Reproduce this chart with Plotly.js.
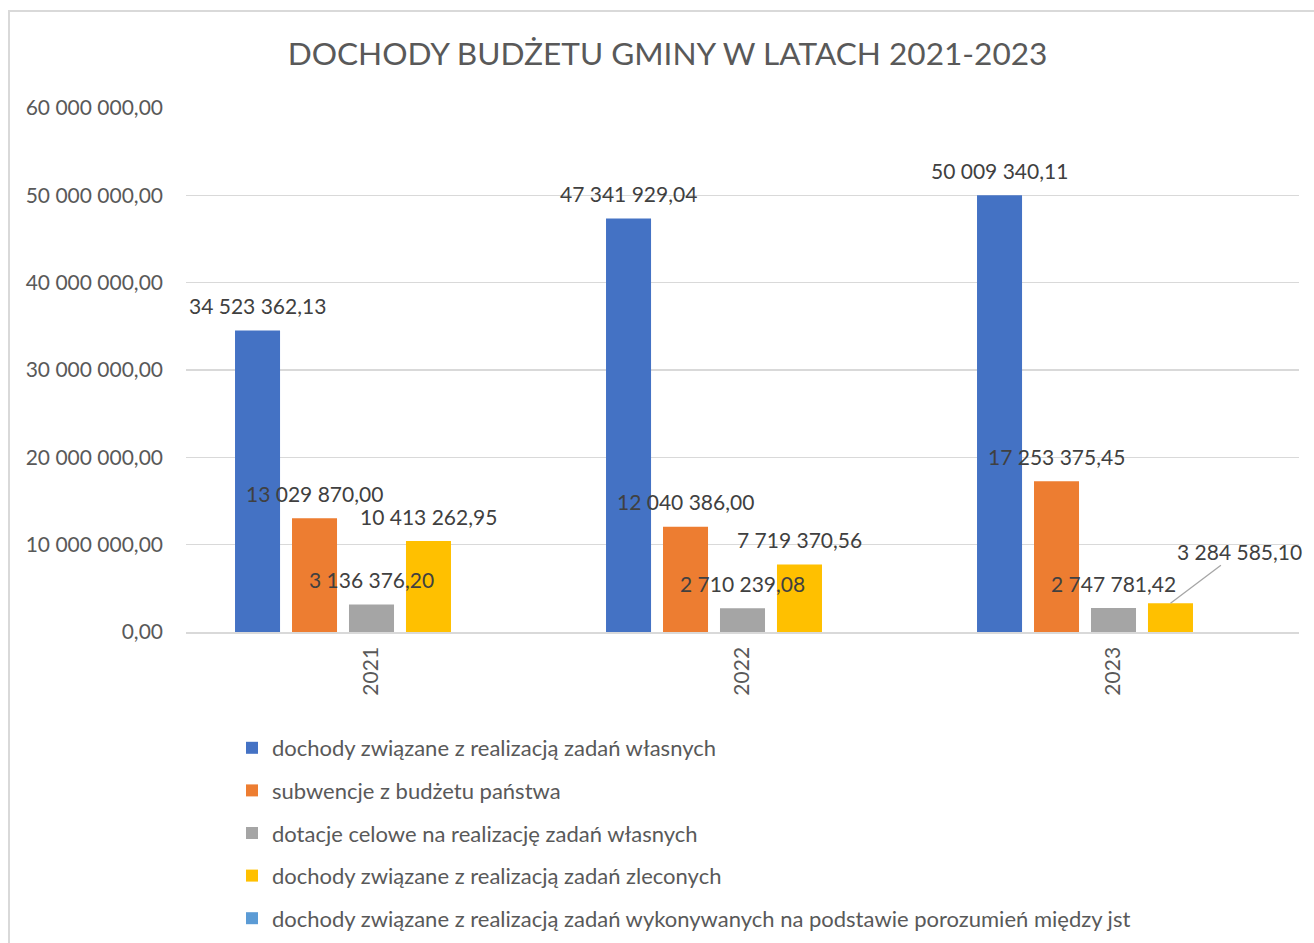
<!DOCTYPE html>
<html>
<head>
<meta charset="utf-8">
<script src="https://cdn.plot.ly/plotly-3.0.1.min.js"></script>
<style>
  html, body { margin: 0; padding: 0; background: #fff; }
  #chart { position: absolute; left: 0; top: 0; width: 1314px; height: 943px; }
  #frame { position: absolute; left: 8px; top: 10px; width: 1320px; height: 950px;
           border: 2px solid #d9d9d9; pointer-events: none; box-sizing: border-box; }
</style>
</head>
<body>
<div id="chart"></div>
<div id="frame"></div>
<script>
const years = ['2021', '2022', '2023'];
const seriesNames = [
  'dochody związane z realizacją zadań własnych',
  'subwencje z budżetu państwa',
  'dotacje celowe na realizację zadań własnych',
  'dochody związane z realizacją zadań zleconych',
  'dochody związane z realizacją zadań wykonywanych na podstawie porozumień między jst'
];
const wlasne = [34523362.13, 47341929.04, 50009340.11];
const subwencje = [13029870.00, 12040386.00, 17253375.45];
const dotacje = [3136376.20, 2710239.08, 2747781.42];
const zlecone = [10413262.95, 7719370.56, 3284585.10];
const porozumienia = [null, null, null];
const yTicks = [0, 10000000, 20000000, 30000000, 40000000, 50000000, 60000000];

const seriesValues = [wlasne, subwencje, dotacje, zlecone, porozumienia];
const colors = ['#4472C4', '#ED7D31', '#A5A5A5', '#FFC000', '#5B9BD5'];

const W = 1314, H = 943;
const margin = {l: 186, r: 15, t: 108, b: 311, autoexpand: false};
const bargap = 0.232;
const plotW = W - margin.l - margin.r;
const slot = plotW / years.length * (1 - bargap) / seriesValues.length;
const FONT = 'Lato, "Liberation Sans", sans-serif';

function fmt(v) {
  const parts = v.toFixed(2).split('.');
  return parts[0].replace(/\B(?=(\d{3})+(?!\d))/g, ' ') + ',' + parts[1];
}

const traces = seriesValues.map((vals, i) => ({
  type: 'bar',
  name: seriesNames[i],
  x: years,
  y: vals,
  marker: {color: colors[i]},
  legendgroup: 'g' + i,
  hoverinfo: 'skip'
}));

const annotations = [];
seriesValues.forEach((vals, i) => {
  vals.forEach((v, j) => {
    if (v === null) return;
    const xs = (i - (seriesValues.length - 1) / 2) * slot;
    // x given as the category index j of years[j]
    if (i === 3 && j === 2) {
      annotations.push({
        x: j, y: v, xref: 'x', yref: 'y', xshift: xs,
        text: fmt(v), showarrow: true, arrowhead: 0, arrowwidth: 1.3,
        arrowcolor: '#a6a6a6', ax: 69, ay: -52, standoff: 0,
        xanchor: 'center', yanchor: 'middle',
        font: {family: FONT, size: 21, color: '#404040'}
      });
    } else {
      annotations.push({
        x: j, y: v, xref: 'x', yref: 'y', xshift: xs, yshift: 25,
        text: fmt(v), showarrow: false, xanchor: 'center', yanchor: 'middle',
        font: {family: FONT, size: 21, color: '#404040'}
      });
    }
  });
});

const layout = {
  width: W, height: H,
  margin: margin,
  paper_bgcolor: '#fff', plot_bgcolor: '#fff',
  separators: ', ',
  font: {family: FONT, color: '#595959', size: 21},
  title: {
    text: 'DOCHODY BUDŻETU GMINY W LATACH 2021-2023',
    xref: 'container', yref: 'container', x: 0.508, y: 1 - 54 / H,
    xanchor: 'center', yanchor: 'middle',
    font: {family: FONT, size: 31.6, color: '#595959'}
  },
  barmode: 'group',
  bargap: bargap,
  bargroupgap: 0.21,
  xaxis: {
    type: 'category',
    categoryorder: 'array', categoryarray: years,
    range: [-0.5, years.length - 0.5],
    tickangle: -90,
    showline: true, linecolor: '#d9d9d9', linewidth: 1.5,
    ticks: '', showgrid: false,
    ticklabelstandoff: 5,
    tickfont: {family: FONT, size: 21, color: '#595959'}
  },
  yaxis: {
    range: [0, 60000000],
    tickvals: yTicks,
    tickformat: ',.2f',
    showgrid: true, gridcolor: '#d9d9d9', gridwidth: 1.5,
    zeroline: false, showline: false, ticks: '',
    ticklabelstandoff: 22,
    tickfont: {family: FONT, size: 21, color: '#595959'}
  },
  showlegend: true,
  legend: {
    orientation: 'v',
    x: (232 - margin.l) / plotW, y: -(727 - (H - margin.b)) / (H - margin.t - margin.b),
    xanchor: 'left', yanchor: 'top',
    traceorder: 'grouped',
    tracegroupgap: 11,
    font: {family: FONT, size: 22, color: '#595959'},
    bgcolor: 'rgba(0,0,0,0)'
  },
  annotations: annotations
};

Plotly.newPlot('chart', traces, layout, {displayModeBar: false, staticPlot: true});
</script>
</body>
</html>
